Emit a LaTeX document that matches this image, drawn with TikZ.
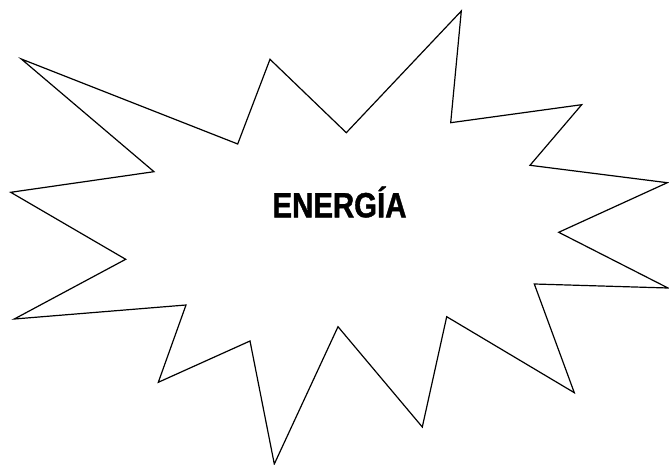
\documentclass[tikz,border=0pt]{standalone}
\usepackage{fontspec}
\setmainfont{Liberation Sans}
\newfontfamily\labfont[FakeStretch=0.84,FakeBold=1.2]{Liberation Sans}
\begin{document}
\begin{tikzpicture}[x=1bp,y=-1bp,
  burst/.style={draw=black,line width=1.2bp,line join=miter,fill=white},
  bursttext/.style={font={\labfont\bfseries\fontsize{35bp}{35bp}\selectfont},anchor=base,inner sep=0pt}]
\useasboundingbox (0,0) rectangle (669,465);
\draw[burst] (21.3,59) -- (237.7,144) -- (270,59.3) -- (346.3,132.7) -- (461.3,11)
  -- (450.7,122.7) -- (581.7,104.7) -- (530,165.3) -- (667.3,182.7) -- (558.7,232.3)
  -- (668,288) -- (534.3,284) -- (574.3,392.7) -- (446.7,316.7) -- (422.3,427)
  -- (338,326.7) -- (274.3,464) -- (250,341) -- (158.3,382.3) -- (186,305)
  -- (14.3,319) -- (125.7,259.3) -- (10.7,192.3) -- (154,171.7) -- cycle;
\node[bursttext] (t) at (339.5,217.3) {ENERGÍA};
\end{tikzpicture}
\end{document}
